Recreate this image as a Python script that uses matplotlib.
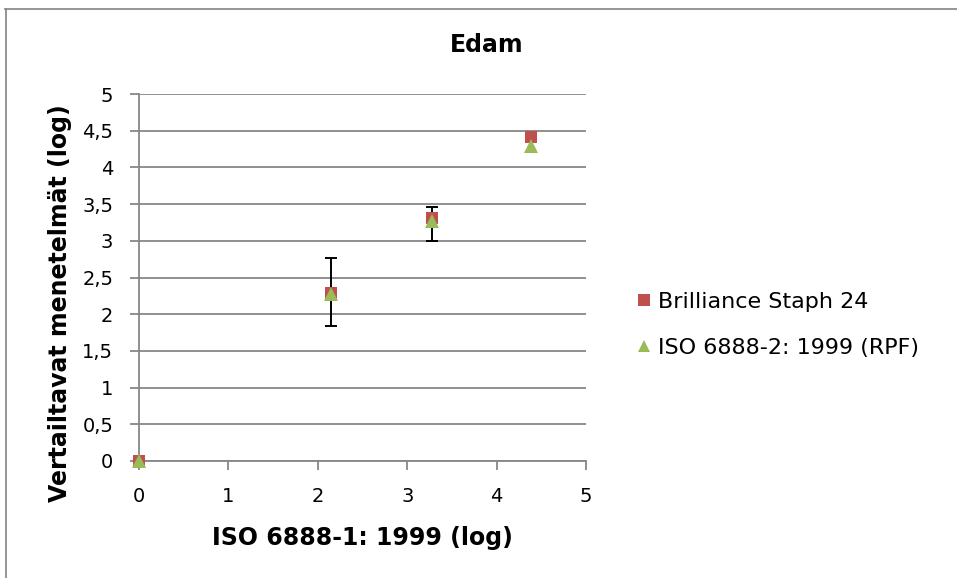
import matplotlib
matplotlib.use("Agg")
import matplotlib.pyplot as plt
from matplotlib.lines import Line2D

# data (log values)
iso1_x = [0.0, 2.15, 3.28, 4.385]
brilliance_y = [0.0, 2.29, 3.31, 4.42]
iso2_y = [0.0, 2.275, 3.27, 4.29]
iso2_err_low = [0.0, 0.435, 0.27, 0.0]
iso2_err_high = [0.0, 0.485, 0.19, 0.0]

y_ticks = [0, 0.5, 1, 1.5, 2, 2.5, 3, 3.5, 4, 4.5, 5]
x_ticks = [0, 1, 2, 3, 4, 5]

grid_col = "#878787"
W, H = 957, 578

plt.rcParams["font.family"] = "DejaVu Sans"
fig = plt.figure(figsize=(W / 100, H / 100), dpi=100)
ax = fig.add_axes([139 / W, 1 - 461 / H, (586 - 139) / W, (461 - 94) / H])

# error bars only where there is a spread
idx = [i for i in range(len(iso1_x)) if iso2_err_low[i] > 0 or iso2_err_high[i] > 0]
ax.errorbar([iso1_x[i] for i in idx], [iso2_y[i] for i in idx],
            yerr=[[iso2_err_low[i] for i in idx], [iso2_err_high[i] for i in idx]],
            fmt="none", ecolor="black", elinewidth=1.4, capsize=4.2, capthick=1.4,
            zorder=3)

ax.plot(iso1_x, brilliance_y, linestyle="none", marker="s", markersize=9,
        color="#C0504D", markeredgewidth=0, label="Brilliance Staph 24",
        zorder=4, clip_on=False)
ax.plot(iso1_x, iso2_y, linestyle="none", marker="^", markersize=9.5,
        color="#9BBB59", markeredgewidth=0, label="ISO 6888-2: 1999 (RPF)",
        zorder=5, clip_on=False)

ax.set_xlim(0, 5)
ax.set_ylim(0, 5)
ax.set_xticks(x_ticks)
ax.set_xticklabels([str(t) for t in x_ticks])
ax.set_yticks(y_ticks)
ax.set_yticklabels([("%g" % t).replace(".", ",") for t in y_ticks])

ax.yaxis.grid(True, color=grid_col, linewidth=1.3)
ax.set_axisbelow(True)
for s in ["top", "right"]:
    ax.spines[s].set_visible(False)
for s in ["left", "bottom"]:
    ax.spines[s].set_color(grid_col)
    ax.spines[s].set_linewidth(1.3)
ax.tick_params(axis="both", direction="out", length=6.5, width=1.3,
               color=grid_col, labelsize=14, labelcolor="black")
ax.tick_params(axis="x", pad=12.5)
ax.tick_params(axis="y", pad=12)

ax.set_xlabel("ISO 6888-1: 1999 (log)", fontsize=17, fontweight="bold")
ax.xaxis.set_label_coords(362 / W, 1 - 526 / H, transform=fig.transFigure)
ax.set_ylabel("Vertailtavat menetelmät (log)", fontsize=17, fontweight="bold")
ax.yaxis.set_label_coords(72 / W, 1 - 303 / H, transform=fig.transFigure)

fig.text(487 / W, 1 - 45 / H, "Edam", ha="center", va="center",
         fontsize=17, fontweight="bold")

fig.legend(loc="center left", bbox_to_anchor=(637 / W, 1 - 325 / H),
           frameon=False, fontsize=16, handlelength=0.6, handletextpad=0.35,
           labelspacing=1.18, borderpad=0, borderaxespad=0, markerscale=0.9)

# chart area border (only top and left fall inside the picture)
fig.add_artist(Line2D([5 / W, 1], [1 - 8.5 / H, 1 - 8.5 / H], color="#8c8c8c",
                      linewidth=1.3, transform=fig.transFigure))
fig.add_artist(Line2D([5.5 / W, 5.5 / W], [0, 1 - 8.5 / H], color="#8c8c8c",
                      linewidth=1.3, transform=fig.transFigure))

fig.savefig("out.png", dpi=100)
